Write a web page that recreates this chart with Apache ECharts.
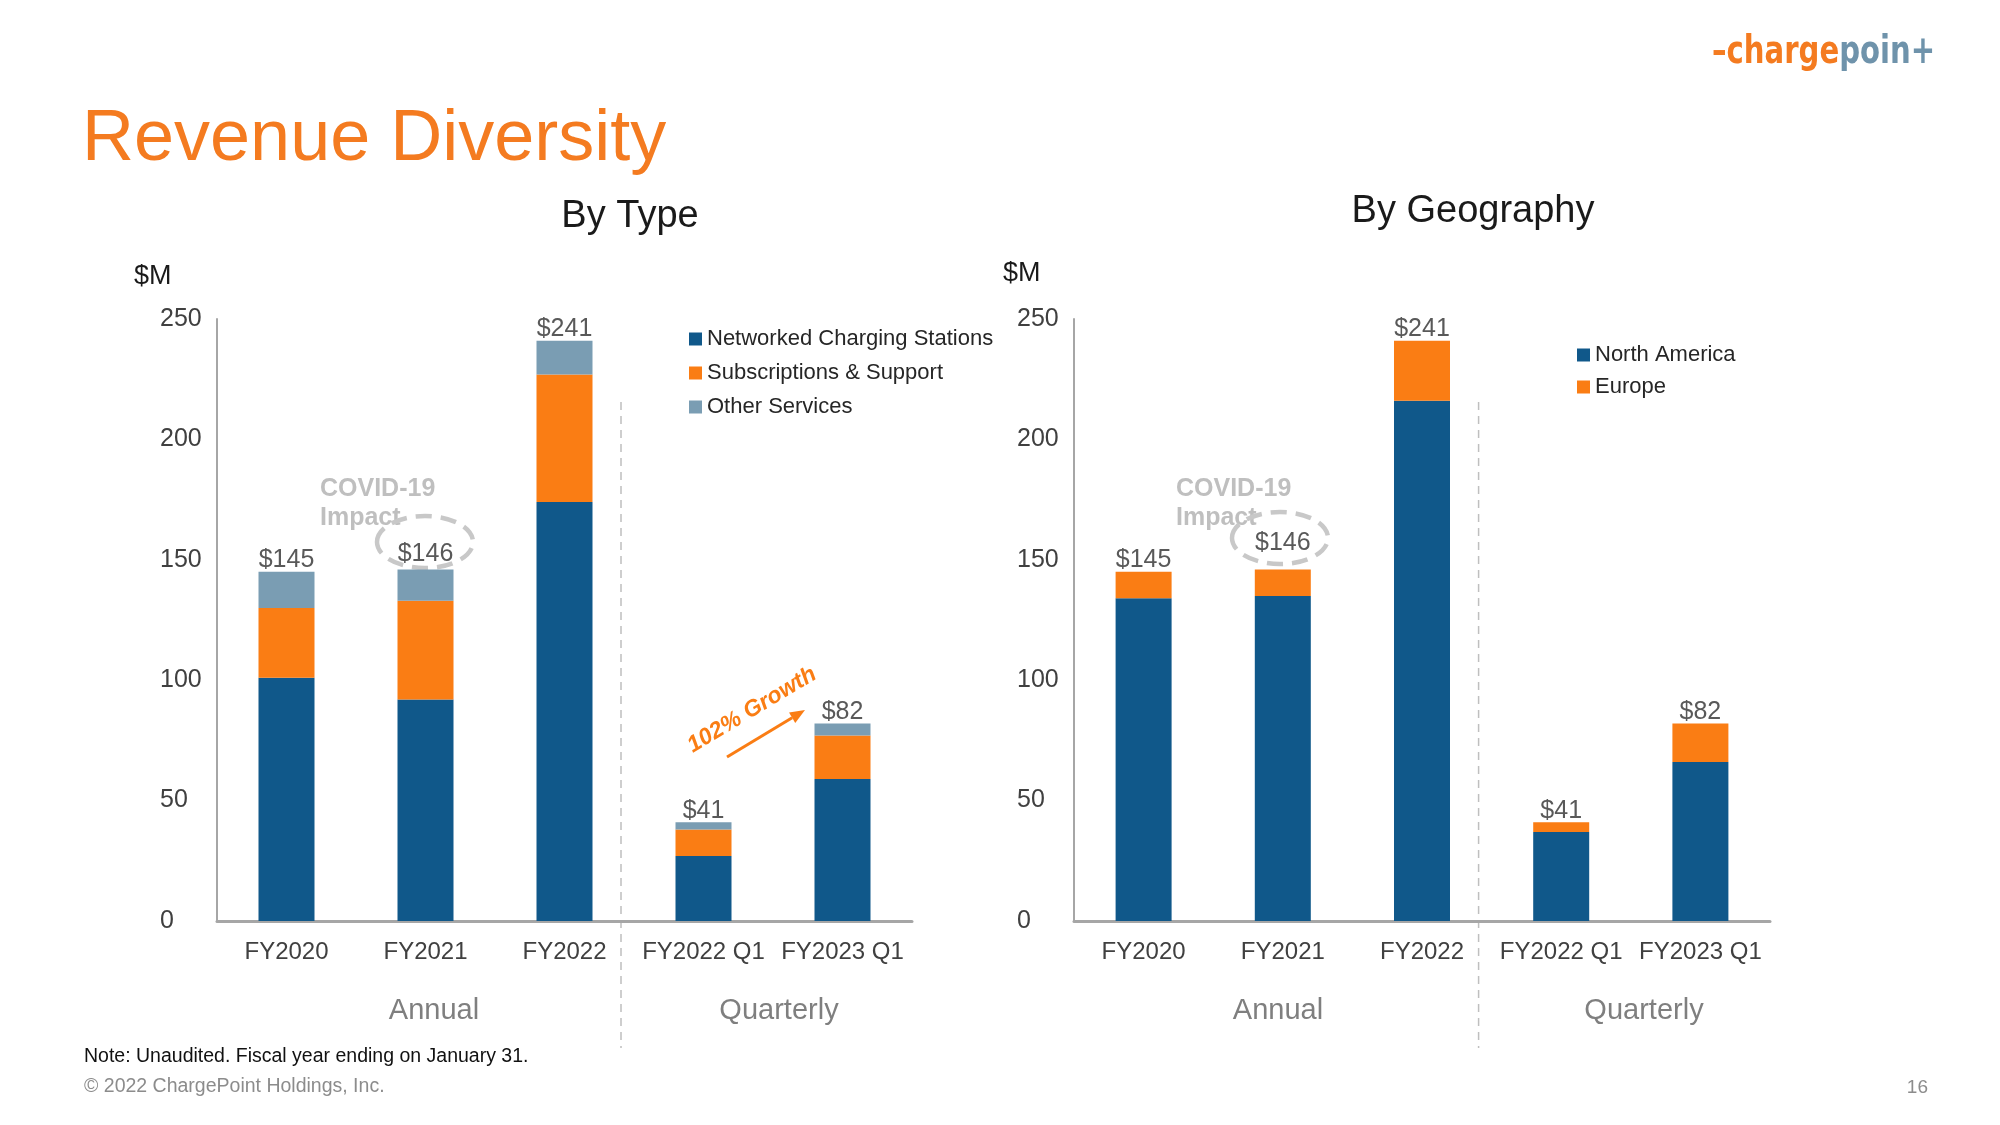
<!DOCTYPE html>
<html>
<head>
<meta charset="utf-8">
<style>
html,body{margin:0;padding:0;background:#fff;}
#chart{width:2000px;height:1125px;}
</style>
<script src="https://cdn.jsdelivr.net/npm/echarts@6/dist/echarts.min.js"></script>
</head>
<body>
<div id="chart"></div>
<script>
// ---- data ----
const categories = ['FY2020', 'FY2021', 'FY2022', 'FY2022 Q1', 'FY2023 Q1'];
const networkedCharging = [101, 92, 174, 27, 59];
const subscriptionsSupport = [29, 41, 53, 11, 18];
const otherServices = [15, 13, 14, 3, 5];
const northAmerica = [134, 135, 216, 37, 66];
const europe = [11, 11, 25, 4, 16];
const yMin = 0, yMax = 250, yInterval = 50;
const typeNames = ['Networked Charging Stations', 'Subscriptions & Support', 'Other Services'];
const geoNames = ['North America', 'Europe'];

const typeTotals = categories.map((c, i) => networkedCharging[i] + subscriptionsSupport[i] + otherServices[i]);
const geoTotals = categories.map((c, i) => northAmerica[i] + europe[i]);

// ---- layout ----
const FONT = '"Liberation Sans", Arial, Helvetica, sans-serif';
const BLUE = '#10588A', ORANGE = '#FA7D14', GREYBLUE = '#7A9DB3';
const G1 = {left: 217, top: 319, width: 695, height: 602};
const G2 = {left: 1074, top: 319, width: 696, height: 602};
const COVID_IDX = 1; // category whose total label sits inside the dashed ellipse

function xAxisCfg(idx) {
  return {
    type: 'category', gridIndex: idx, data: categories,
    axisTick: {show: false},
    axisLine: {lineStyle: {color: '#A6A6A6', width: 3}},
    axisLabel: {color: '#404040', fontSize: 24, fontFamily: FONT, margin: 19, interval: 0}
  };
}
function yAxisCfg(idx) {
  return {
    type: 'value', gridIndex: idx, min: yMin, max: yMax, interval: yInterval,
    splitLine: {show: false},
    axisTick: {show: false},
    axisLine: {show: true, lineStyle: {color: '#A6A6A6', width: 2}},
    axisLabel: {color: '#404040', fontSize: 25, fontFamily: FONT, margin: 57, align: 'left'}
  };
}
const totalLabel = (totals) => ({
  show: true, position: 'top', distance: -1,
  color: '#595959', fontSize: 25, fontFamily: FONT,
  formatter: p => '$' + totals[p.dataIndex]
});
const withLabelShift = (arr, dy) => arr.map((v, i) => i === COVID_IDX ? {value: v, label: {offset: [0, dy]}} : v);
const barW = 56;

const series = [
  {name: typeNames[0], type: 'bar', stack: 'type', xAxisIndex: 0, yAxisIndex: 0, barWidth: barW,
   itemStyle: {color: BLUE}, data: networkedCharging},
  {name: typeNames[1], type: 'bar', stack: 'type', xAxisIndex: 0, yAxisIndex: 0, barWidth: barW,
   itemStyle: {color: ORANGE}, data: subscriptionsSupport},
  {name: typeNames[2], type: 'bar', stack: 'type', xAxisIndex: 0, yAxisIndex: 0, barWidth: barW,
   itemStyle: {color: GREYBLUE}, data: withLabelShift(otherServices, -4), label: totalLabel(typeTotals)},
  {name: geoNames[0], type: 'bar', stack: 'geo', xAxisIndex: 1, yAxisIndex: 1, barWidth: barW,
   itemStyle: {color: BLUE}, data: northAmerica},
  {name: geoNames[1], type: 'bar', stack: 'geo', xAxisIndex: 1, yAxisIndex: 1, barWidth: barW,
   itemStyle: {color: ORANGE}, data: withLabelShift(europe, -15), label: totalLabel(geoTotals)}
];

function txt(x, y, text, font, color, align) {
  return {
    type: 'text', x: x, y: y, silent: true,
    style: {text: text, fill: color, font: font,
      textAlign: align || 'left', textVerticalAlign: 'middle'}
  };
}

const graphics = [];
// Titles
graphics.push(txt(82, 140, 'Revenue Diversity', '72px ' + FONT, '#F47B20'));
graphics.push(txt(630, 217, 'By Type', '38px ' + FONT, '#1A1A1A', 'center'));
graphics.push(txt(1473, 212, 'By Geography', '38px ' + FONT, '#1A1A1A', 'center'));
graphics.push(txt(134, 277, '$M', '27px ' + FONT, '#1A1A1A'));
graphics.push(txt(1003, 274, '$M', '27px ' + FONT, '#1A1A1A'));

// Logo
graphics.push({
  type: 'text', x: 1712, y: 53, scaleX: 0.83, silent: true,
  style: {
    text: '{o|\u2013charge}{b|poin+}', textVerticalAlign: 'middle', textAlign: 'left',
    rich: {
      o: {fill: '#F47B20', font: 'bold 39px "DejaVu Sans Condensed", ' + FONT},
      b: {fill: '#6F93AB', font: 'bold 39px "DejaVu Sans Condensed", ' + FONT}
    }
  }
});

// Dividers and group labels
[[G1, 434, 779], [G2, 1278, 1644]].forEach(d => {
  const g = d[0];
  const xd = g.left + g.width * 3 / 5 - 13;
  graphics.push({type: 'line', silent: true, shape: {x1: xd, y1: 402, x2: xd, y2: 1048},
    style: {stroke: '#BFBFBF', lineWidth: 1.5, lineDash: [8, 6]}});
  graphics.push(txt(d[1], 1011, 'Annual', '29px ' + FONT, '#7F7F7F', 'center'));
  graphics.push(txt(d[2], 1011, 'Quarterly', '29px ' + FONT, '#7F7F7F', 'center'));
});

// COVID-19 annotations
[[320, 425, 542], [1176, 1280, 538]].forEach(a => {
  graphics.push(txt(a[0], 489, 'COVID-19', 'bold 25px ' + FONT, '#BFBFBF'));
  graphics.push(txt(a[0], 518, 'Impact', 'bold 25px ' + FONT, '#BFBFBF'));
  graphics.push({type: 'ellipse', silent: true, shape: {cx: a[1], cy: a[2], rx: 48, ry: 26},
    style: {fill: 'none', stroke: '#C8C8C8', lineWidth: 4.5, lineDash: [16, 9]}});
});

// Growth annotation
graphics.push({
  type: 'text', x: 752, y: 710, rotation: Math.PI * 31 / 180, silent: true,
  style: {text: '102% Growth', fill: ORANGE, font: 'italic bold 23px ' + FONT,
    textAlign: 'center', textVerticalAlign: 'middle'}
});
(function () {
  const x1 = 727, y1 = 757, x2 = 805, y2 = 710;
  const dx = x2 - x1, dy = y2 - y1, L = Math.sqrt(dx * dx + dy * dy);
  const ux = dx / L, uy = dy / L, hl = 15, hw = 6;
  const bx = x2 - ux * hl, by = y2 - uy * hl;
  graphics.push({type: 'line', silent: true, shape: {x1: x1, y1: y1, x2: bx, y2: by},
    style: {stroke: ORANGE, lineWidth: 3}});
  graphics.push({type: 'polygon', silent: true,
    shape: {points: [[x2, y2], [bx - uy * hw, by + ux * hw], [bx + uy * hw, by - ux * hw]]},
    style: {fill: ORANGE}});
})();

// Footer
graphics.push(txt(84, 1057, 'Note: Unaudited. Fiscal year ending on January 31.', '19.5px ' + FONT, '#111111'));
graphics.push(txt(84, 1087, '\u00A9 2022 ChargePoint Holdings, Inc.', '19.5px ' + FONT, '#8C8C8C'));
graphics.push(txt(1928, 1088, '16', '19px ' + FONT, '#8C8C8C', 'right'));

const legendText = {color: '#262626', fontSize: 22, fontFamily: FONT, lineHeight: 22};
const option = {
  animation: false,
  backgroundColor: '#ffffff',
  grid: [
    Object.assign({containLabel: false}, G1),
    Object.assign({containLabel: false}, G2)
  ],
  xAxis: [xAxisCfg(0), xAxisCfg(1)],
  yAxis: [yAxisCfg(0), yAxisCfg(1)],
  legend: [
    {data: typeNames, orient: 'vertical', left: 684, top: 323, icon: 'rect',
     itemWidth: 13, itemHeight: 13, itemGap: 12, textStyle: legendText, selectedMode: false},
    {data: geoNames, orient: 'vertical', left: 1572, top: 339, icon: 'rect',
     itemWidth: 13, itemHeight: 13, itemGap: 10, textStyle: legendText, selectedMode: false}
  ],
  series: series,
  graphic: graphics
};
const chart = echarts.init(document.getElementById('chart'), null, {renderer: 'canvas'});
chart.setOption(option);
</script>
</body>
</html>
